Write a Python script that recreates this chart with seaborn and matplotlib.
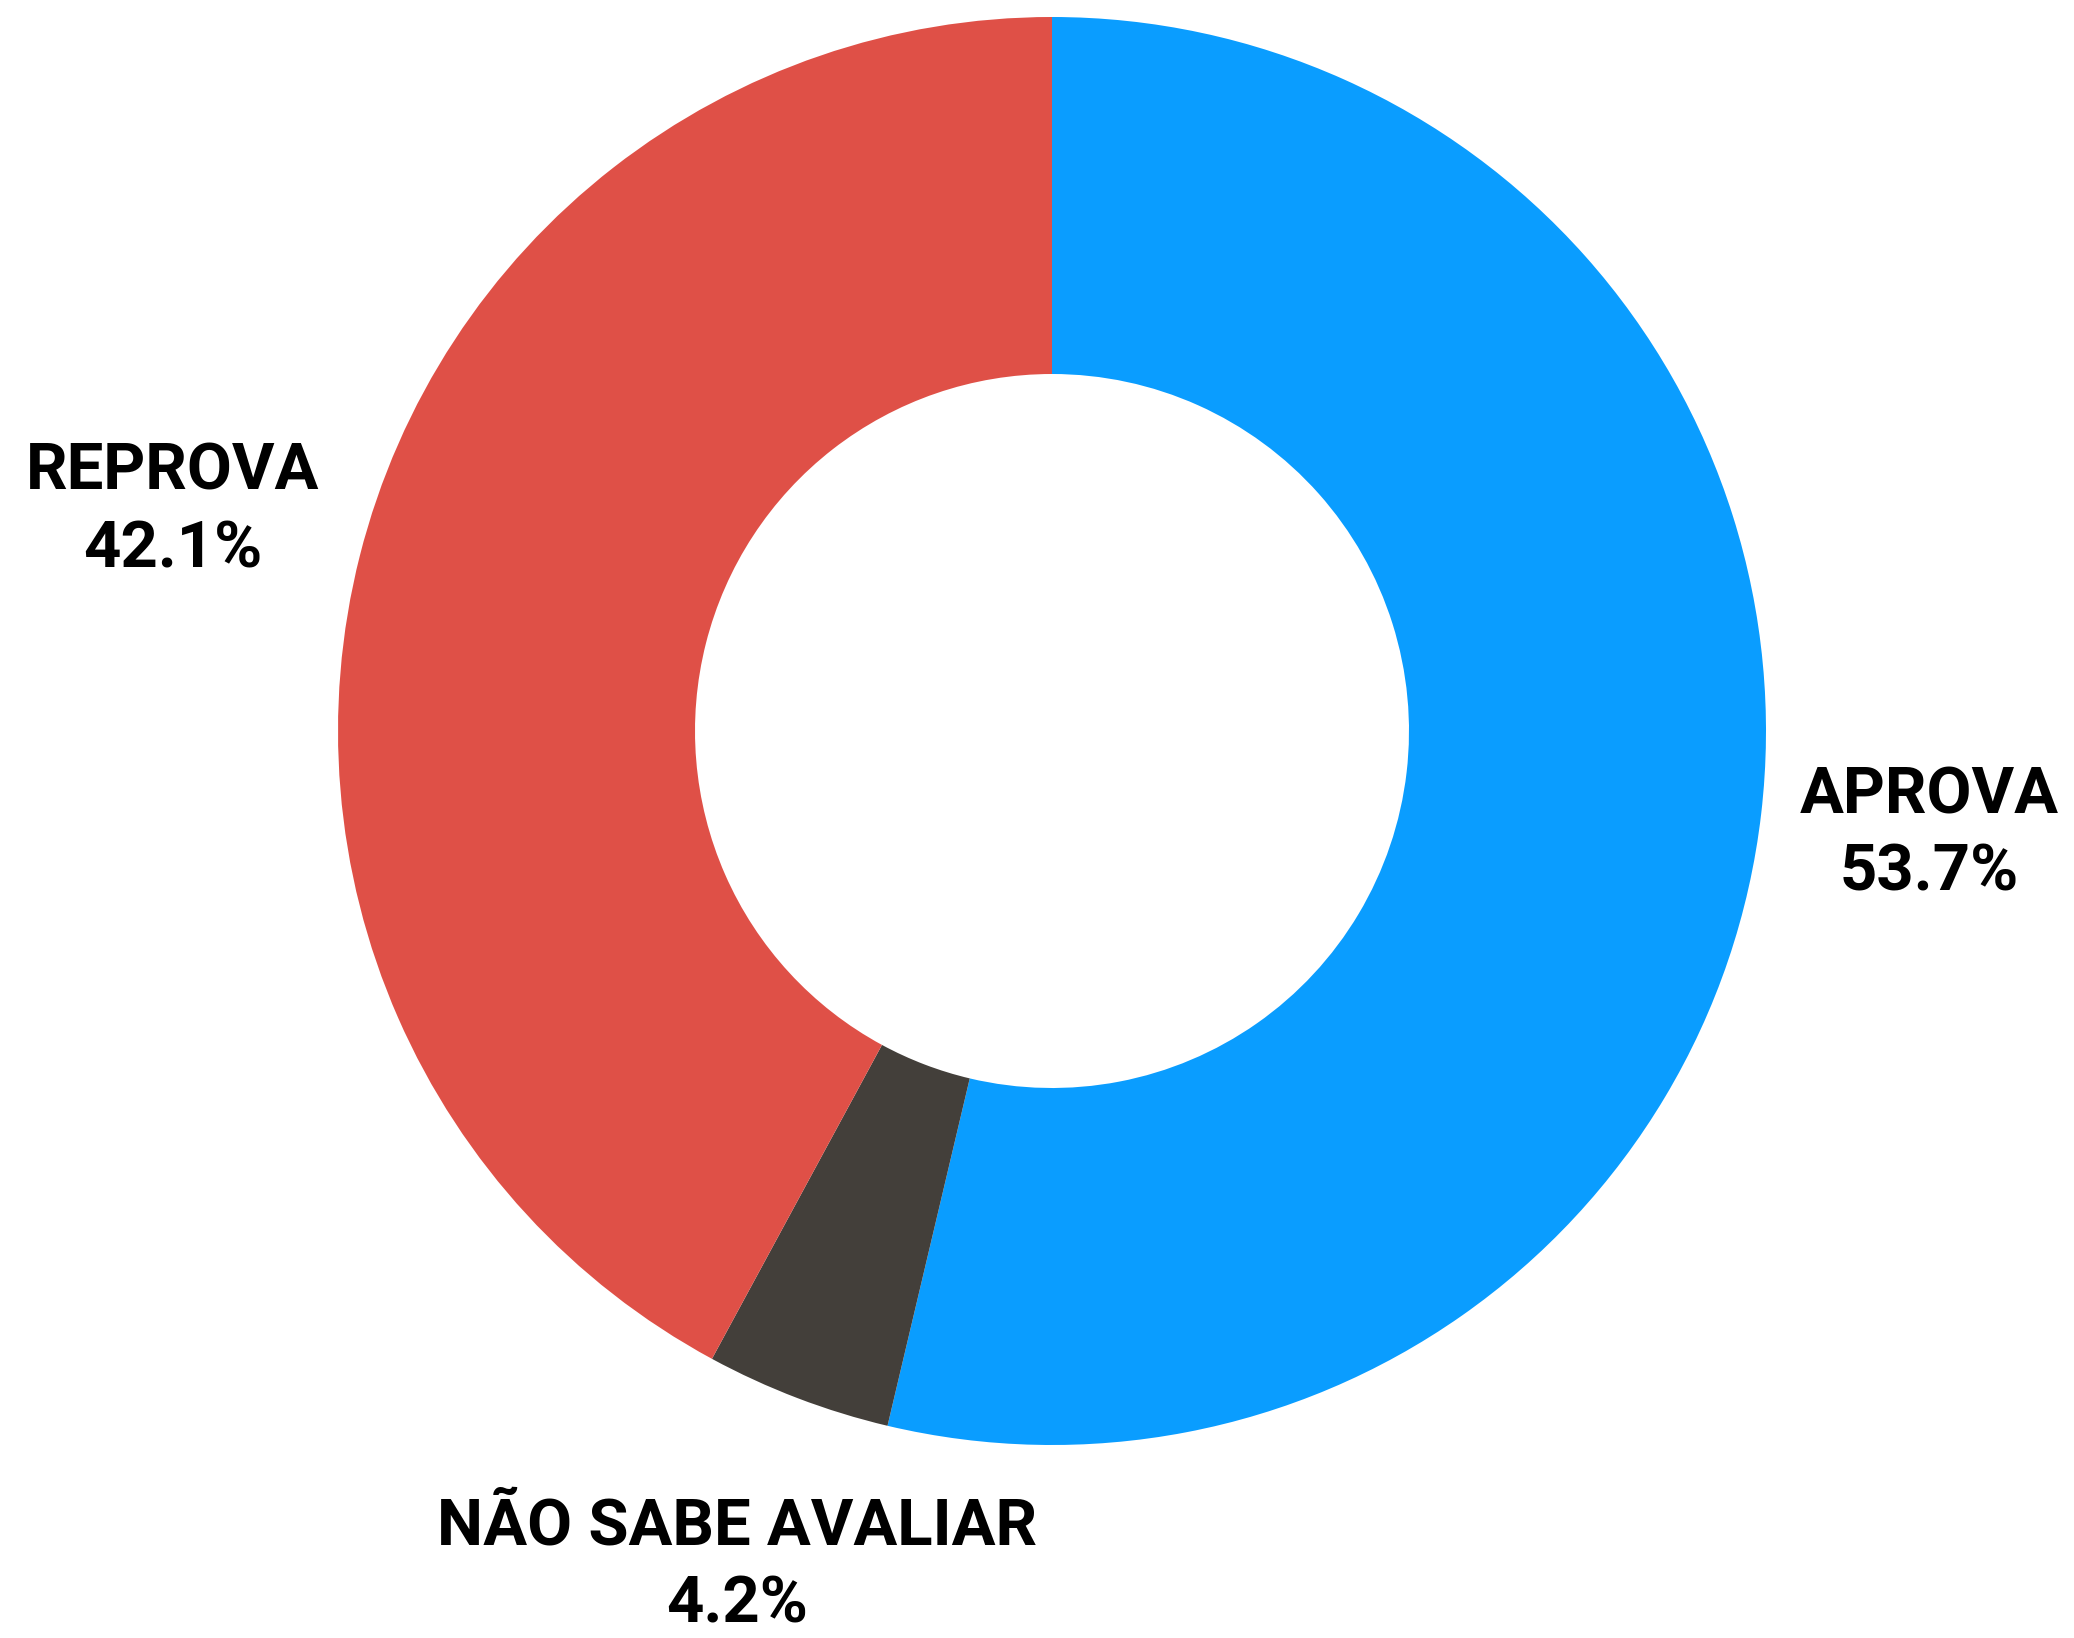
import matplotlib.pyplot as plt
import seaborn as sns

categories = ["APROVA", "NÃO SABE AVALIAR", "REPROVA"]
shares = [53.7, 4.2, 42.1]
colors = ["#0a9dff", "#433f3a", "#df5047"]

# label anchor points (data units, outer radius = 1)
label_pos = [(1.228, -0.145), (-0.441, -1.17), (-1.232, 0.308)]


def main() -> None:
    sns.set_theme(style="white")
    plt.rcParams["font.family"] = ["Roboto", "DejaVu Sans"]

    fig = plt.figure(figsize=(20.74, 16.38), dpi=100)
    ax = fig.add_axes([0, 0, 1, 1])
    ax.pie(
        shares,
        colors=colors,
        startangle=90,
        counterclock=False,
        wedgeprops={"width": 0.5, "linewidth": 0},
    )
    ax.set_xlim(-1052 / 714, (2074 - 1052) / 714)
    ax.set_ylim(-907 / 714, (1638 - 907) / 714)
    ax.set_aspect("equal")
    ax.axis("off")

    for name, val, (x, y) in zip(categories, shares, label_pos):
        ax.text(
            x, y, f"{name}\n{val:.1f}%",
            ha="center", va="center",
            fontsize=47, fontweight="bold", color="black",
            linespacing=1.35,
        )

    fig.savefig("out.png", dpi=100)
    plt.close(fig)


if __name__ == "__main__":
    main()
